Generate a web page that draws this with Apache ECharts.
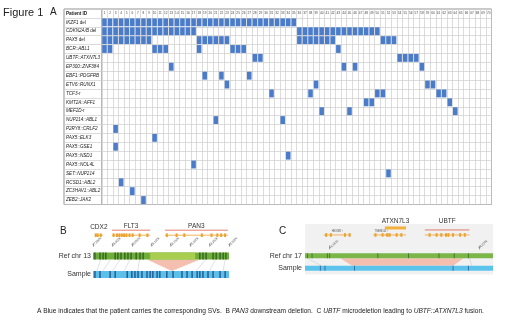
<!DOCTYPE html>
<html>
<head>
<meta charset="utf-8">
<script src="https://cdn.jsdelivr.net/npm/echarts@6/dist/echarts.min.js"></script>
<style>
html,body{margin:0;padding:0;background:#fff;}
#chart{width:520px;height:321px;}
</style>
</head>
<body>
<div id="chart"></div>
<script>
// ---- panel A data ----
var patientIds = ['1','2','3','4','5','6','7','8','9','10','11','12','13','14','15','16','17','18','19','20',
  '21','22','23','24','25','26','27','28','29','30','31','32','33','34','35','36','37','38','39','40',
  '41','42','43','44','45','46','47','48','49','50','51','52','53','54','55','56','57','58','59','60',
  '61','62','63','64','65','66','67','68','69','70'];
var svNames = ['IKZF1 del','CDKN2A/B del','PAX5 del','BCR::ABL1','UBTF::ATXN7L3','EP300::ZNF384',
  'EBF1::PDGFRB','ETV6::RUNX1','TCF3-r','KMT2A::AFF1','MEF2D-r','NUP214::ABL1','P2RY8::CRLF2',
  'PAX5::ELK3','PAX5::GSE1','PAX5::NSD1','PAX5::NOL4L','SET::NUP214','RCSD1::ABL2','ZC3HAV1::ABL2','ZEB2::JAK2'];
// patients carrying each SV, as runs [from, to]
var svCarriers = [
  [[1,35]],
  [[1,17],[36,50]],
  [[1,9],[18,23],[36,42],[51,53]],
  [[1,2],[10,12],[18,18],[24,26],[43,43]],
  [[28,29],[54,57]],
  [[13,13],[44,44],[46,46],[58,58]],
  [[19,19],[22,22],[27,27]],
  [[23,23],[39,39],[59,60]],
  [[31,31],[38,38],[50,51],[61,62]],
  [[48,49],[63,63]],
  [[40,40],[45,45],[64,64]],
  [[21,21],[33,33]],
  [[3,3]],
  [[10,10]],
  [[3,3]],
  [[34,34]],
  [[17,17]],
  [[52,52]],
  [[4,4]],
  [[6,6]],
  [[8,8]]
];

// ---- panel B data (chr13, Mb) ----
var bRange = [27.95, 28.30];
var bGenes = [
  {name: 'CDX2', start: 27.955, end: 27.975, mark: false, exons: [27.957, 27.962, 27.970]},
  {name: 'FLT3', start: 27.999, end: 28.097, mark: true, exons: [28.003, 28.012, 28.018, 28.024, 28.030, 28.036, 28.044, 28.052, 28.070, 28.090]},
  {name: 'PAN3', start: 28.135, end: 28.297, mark: true, exons: [28.140, 28.165, 28.185, 28.230, 28.255, 28.270, 28.280, 28.290]}
];
var bRefStripes = [27.955, 27.968, 27.976, 27.983, 28.007, 28.014, 28.022, 28.032, 28.040, 28.048, 28.061, 28.071, 28.079,
  28.225, 28.233, 28.241, 28.259, 28.267, 28.277, 28.285, 28.292];
var bRefLight = [28.097, 28.213];
var bSampleStripes = [27.955, 27.968, 27.994, 28.007, 28.038, 28.050, 28.058, 28.066, 28.076, 28.089, 28.097, 28.104,
  28.115, 28.122, 28.140, 28.156, 28.179, 28.192, 28.205, 28.218, 28.225, 28.233, 28.246, 28.259, 28.277, 28.290];
var bDeletion = [28.089, 28.225, 28.153];
var bLinks = [[27.970, 27.960], [27.995, 27.975], [28.020, 28.000], [28.045, 28.030], [28.070, 28.065],
  [28.240, 28.215], [28.265, 28.250], [28.290, 28.285]];

// ---- panel C data (chr17, Mb) ----
var cRange = [44.150, 44.230];
var cTicks = [44.1605, 44.2240];
var cGenes = [
  {name: 'HEXIM1', start: 44.158, end: 44.1695, mark: false, exons: [44.159, 44.161, 44.167, 44.169]},
  {name: 'TMEM101', start: 44.179, end: 44.186, mark: false, exons: [44.180, 44.183, 44.185]},
  {name: 'ATXN7L3', start: 44.184, end: 44.193, mark: false, top: true, exons: [44.186, 44.189, 44.191]},
  {name: 'UBTF', start: 44.201, end: 44.220, mark: true, exons: [44.203, 44.206, 44.208, 44.210, 44.211, 44.213, 44.216, 44.218]}
];
var cRefStripes = [44.151, 44.153, 44.1595, 44.1605, 44.181, 44.194, 44.207, 44.2135, 44.2195];
var cSampleStripes = [44.1565, 44.1585, 44.171, 44.213, 44.2195];
var cDeletion = [44.165, 44.2175, 44.170, 44.213];
var cLinks = [[44.151, 44.157], [44.220, 44.221]];

var FONT = '"Liberation Sans", Arial, sans-serif';
var BLUE = '#4a7cc9';

var cellData = [];
svCarriers.forEach(function (runs, r) {
  runs.forEach(function (run) {
    for (var p = run[0]; p <= run[1]; p++) cellData.push([p - 1, r + 1]);
  });
});
var rowCats = ['Patient ID'].concat(svNames);

function rowLabel(v) {
  if (v === 'Patient ID') return '{b|Patient ID}';
  var m = v.match(/^(\S+?)( del|-r)?$/);
  return '{i|' + m[1] + '}' + (m[2] ? '{n|' + m[2] + '}' : '');
}

function makeGeneSeries(genes, xi, yi, trackY) {
  return {
    type: 'custom', xAxisIndex: xi, yAxisIndex: yi, silent: true,
    data: genes.map(function (g, i) { return [g.start, g.end, i]; }),
    renderItem: function (params, api) {
      var g = genes[api.value(2)];
      var s = api.coord([g.start, trackY]);
      var e = api.coord([g.end, trackY]);
      var y = s[1];
      var kids = [
        {type: 'line', shape: {x1: s[0], y1: y, x2: e[0], y2: y}, style: {stroke: '#f0a030', lineWidth: 0.8}}
      ];
      g.exons.forEach(function (x) {
        var p = api.coord([x, trackY]);
        kids.push({type: 'rect', shape: {x: p[0] - 1, y: y - 1.8, width: 2, height: 3.6}, style: {fill: '#eda028'}});
      });
      if (g.top) {
        kids.push({type: 'rect', shape: {x: s[0], y: y - 8.5, width: e[0] - s[0], height: 3}, style: {fill: '#f2b13a'}});
        kids.push({type: 'text', style: {text: g.name, x: (s[0] + e[0]) / 2, y: y - 14, fontSize: 6.5, fontFamily: FONT, fill: '#333', align: 'center', verticalAlign: 'middle'}});
      } else if (g.mark) {
        kids.push({type: 'line', shape: {x1: s[0], y1: y - 5, x2: e[0], y2: y - 5}, style: {stroke: '#e0604e', lineWidth: 0.8}});
        kids.push({type: 'text', style: {text: g.name, x: (s[0] + e[0]) / 2, y: y - (g.name === 'UBTF' ? 14 : 8.5), fontSize: 6.5, fontFamily: FONT, fill: '#333', align: 'center', verticalAlign: 'middle'}});
      } else if (g.name === 'CDX2') {
        kids.push({type: 'text', style: {text: g.name, x: (s[0] + e[0]) / 2, y: y - 8, fontSize: 6.5, fontFamily: FONT, fill: '#333', align: 'center', verticalAlign: 'middle'}});
      } else {
        kids.push({type: 'text', style: {text: g.name + ' ›', x: (s[0] + e[0]) / 2, y: y - 4, fontSize: 2.6, fontFamily: FONT, fill: '#555', align: 'center', verticalAlign: 'middle'}});
      }
      return {type: 'group', children: kids};
    }
  };
}

function makeBarSeries(range, xi, yi, row, color, h) {
  return {
    type: 'custom', xAxisIndex: xi, yAxisIndex: yi, silent: true,
    data: [[range[0], range[1], row]],
    renderItem: function (params, api) {
      var a = api.coord([api.value(0), api.value(2)]);
      var b = api.coord([api.value(1), api.value(2)]);
      return {type: 'rect', shape: {x: a[0], y: a[1] - h / 2, width: b[0] - a[0], height: h}, style: {fill: color}};
    }
  };
}

function makeStripeSeries(list, xi, yi, row, color, h, w) {
  return {
    type: 'custom', xAxisIndex: xi, yAxisIndex: yi, silent: true,
    data: list.map(function (v) { return [v, row]; }),
    renderItem: function (params, api) {
      var a = api.coord([api.value(0), api.value(1)]);
      return {type: 'rect', shape: {x: a[0] - w / 2, y: a[1] - h / 2, width: w, height: h}, style: {fill: color}};
    }
  };
}

function makeLinkSeries(links, del, xi, yi, h, trapezoid) {
  return {
    type: 'custom', xAxisIndex: xi, yAxisIndex: yi, silent: true, z: 1,
    data: [[0]],
    renderItem: function (params, api) {
      var kids = [];
      var pts;
      var a = api.coord([del[0], 0]), b = api.coord([del[1], 0]);
      if (trapezoid) {
        var c = api.coord([del[2], 1]), d = api.coord([del[3], 1]);
        pts = [[a[0], a[1] + h / 2], [b[0], b[1] + h / 2], [d[0], d[1] - h / 2], [c[0], c[1] - h / 2]];
      } else {
        var c2 = api.coord([del[2], 1]);
        pts = [[a[0], a[1] + h / 2], [b[0], b[1] + h / 2], [c2[0], c2[1] - h / 2]];
      }
      kids.push({type: 'polygon', shape: {points: pts}, style: {fill: '#f5bfb0'}});
      links.forEach(function (l) {
        var p = api.coord([l[0], 0]), q = api.coord([l[1], 1]);
        kids.push({type: 'line', shape: {x1: p[0], y1: p[1] + h / 2, x2: q[0], y2: q[1] - h / 2}, style: {stroke: '#c9ccd2', lineWidth: 0.6}});
      });
      return {type: 'group', children: kids};
    }
  };
}

var myChart = echarts.init(document.getElementById('chart'), null, {renderer: 'canvas'});
var hiddenVal = function (idx, min, max) {
  return {type: 'value', gridIndex: idx, min: min, max: max, show: false};
};

var option = {
  animation: false,
  textStyle: {fontFamily: FONT},
  grid: [
    {left: 101.7, right: 28.5, top: 9, height: 195.5, show: true, borderColor: '#777', borderWidth: 0.8},
    {left: 64, width: 37.7, top: 9, height: 195.5, show: true, borderColor: '#777', borderWidth: 0.8},
    {left: 93, width: 136, top: 224, height: 16},
    {left: 93, width: 136, top: 246.75, height: 37},
    {left: 305, width: 188, top: 224, height: 25.5, show: true, backgroundColor: '#f1f1f1', borderWidth: 0},
    {left: 305, width: 188, top: 249.5, height: 25, show: true, backgroundColor: '#f1f1f1', borderWidth: 0}
  ],
  xAxis: [
    {
      type: 'category', gridIndex: 0, data: patientIds, position: 'top',
      axisLine: {show: false}, axisTick: {show: false},
      axisLabel: {inside: true, margin: 2.2, interval: 0, fontSize: 3.2, color: '#444', verticalAlign: 'top'},
      splitLine: {show: true, interval: 0, lineStyle: {color: '#cdcdcd', width: 0.7}}
    },
    hiddenVal(1, 0, 1),
    hiddenVal(2, bRange[0], bRange[1]),
    {
      type: 'value', gridIndex: 3, min: bRange[0], max: bRange[1], interval: 0.05, position: 'top',
      axisLine: {show: false}, splitLine: {show: false},
      axisTick: {show: true, length: 3.5, inside: false, lineStyle: {color: '#666', width: 0.5}},
      axisLabel: {rotate: -45, fontSize: 3.2, color: '#555', margin: 1,
        formatter: function (v) { return Math.round(v * 1000).toLocaleString('en-US') + 'k'; }}
    },
    hiddenVal(4, cRange[0], cRange[1]),
    {
      type: 'value', gridIndex: 5, min: cRange[0], max: cRange[1], position: 'top',
      axisLine: {show: false}, splitLine: {show: false},
      axisTick: {show: true, length: 4, customValues: cTicks, lineStyle: {color: '#666', width: 0.5}},
      axisLabel: {rotate: -45, fontSize: 3.2, color: '#555', margin: 1, customValues: cTicks,
        formatter: function (v) { return Math.round(v * 1000).toLocaleString('en-US') + 'k'; }}
    }
  ],
  yAxis: [
    {
      type: 'category', gridIndex: 0, data: rowCats, inverse: true,
      axisLine: {show: false}, axisTick: {show: false}, axisLabel: {show: false},
      splitLine: {show: true, interval: 0, lineStyle: {color: '#cdcdcd', width: 0.7}}
    },
    {
      type: 'category', gridIndex: 1, data: rowCats, inverse: true,
      axisLine: {show: false}, axisTick: {show: false},
      axisLabel: {inside: true, margin: 2, interval: 0, formatter: rowLabel,
        rich: {
          b: {fontSize: 4.6, fontWeight: 'bold', color: '#222', fontFamily: FONT},
          i: {fontSize: 4.6, fontStyle: 'italic', color: '#222', fontFamily: FONT},
          n: {fontSize: 4.6, color: '#222', fontFamily: FONT}
        }},
      splitLine: {show: true, interval: 0, lineStyle: {color: '#cdcdcd', width: 0.7}}
    },
    hiddenVal(2, 0, 1),
    {
      type: 'category', gridIndex: 3, data: ['Ref chr 13', 'Sample'], inverse: true,
      axisLine: {show: false}, axisTick: {show: false},
      axisLabel: {fontSize: 7, color: '#333', margin: 2}
    },
    hiddenVal(4, 0, 1),
    {
      type: 'category', gridIndex: 5, data: ['Ref chr 17', 'Sample'], inverse: true,
      axisLine: {show: false}, axisTick: {show: false},
      axisLabel: {fontSize: 7, color: '#333', margin: 3}
    }
  ],
  series: [
    {
      type: 'custom', xAxisIndex: 0, yAxisIndex: 0, data: cellData, silent: true,
      renderItem: function (params, api) {
        var p = api.coord([api.value(0), api.value(1)]);
        var s = api.size([1, 1]);
        return {type: 'rect', shape: {x: p[0] - s[0] / 2 + 0.5, y: p[1] - s[1] / 2 + 0.5, width: s[0] - 1, height: s[1] - 1},
          style: {fill: BLUE}};
      }
    },
    makeGeneSeries(bGenes, 2, 2, 0.3),
    makeLinkSeries(bLinks, bDeletion, 3, 3, 7, false),
    makeBarSeries(bRange, 3, 3, 0, '#6fae3a', 7),
    makeBarSeries(bRefLight, 3, 3, 0, '#a9cd4e', 7),
    makeStripeSeries(bRefStripes, 3, 3, 0, '#2f5f22', 7, 1.3),
    makeBarSeries(bRange, 3, 3, 1, '#5cc0ea', 7),
    makeStripeSeries(bSampleStripes, 3, 3, 1, '#1f4f86', 7, 1.3),
    makeGeneSeries(cGenes, 4, 4, 0.57),
    makeLinkSeries(cLinks, cDeletion, 5, 5, 5, true),
    makeBarSeries(cRange, 5, 5, 0, '#7ab648', 5),
    makeStripeSeries(cRefStripes, 5, 5, 0, '#3e6e2a', 5, 0.8),
    makeBarSeries(cRange, 5, 5, 1, '#5cc4ec', 5),
    makeStripeSeries(cSampleStripes, 5, 5, 1, '#2a5d8c', 5, 0.8)
  ],
  graphic: [
    {type: 'text', left: 3, top: 7, style: {text: 'Figure 1', fontSize: 11, fontFamily: FONT, fill: '#222'}},
    {type: 'text', left: 50, top: 7, style: {text: 'A', fontSize: 10, fontFamily: FONT, fill: '#222'}},
    {type: 'text', left: 60, top: 226, style: {text: 'B', fontSize: 10, fontFamily: FONT, fill: '#222'}},
    {type: 'text', left: 279, top: 226, style: {text: 'C', fontSize: 10, fontFamily: FONT, fill: '#222'}},
    {type: 'text', left: 37, top: 308, style: {
      text: 'A Blue indicates that the patient carries the corresponding SVs.  B {i|PAN3} downstream deletion.  C {i|UBTF} microdeletion leading to {i|UBTF::ATXN7L3} fusion.',
      fontSize: 6.6, fontFamily: FONT, fill: '#222',
      rich: {i: {fontStyle: 'italic', fontSize: 6.6, fontFamily: FONT, fill: '#222'}}
    }}
  ]
};
myChart.setOption(option, true);
window.addEventListener('resize', function () { myChart.resize(); });
</script>
</body>
</html>
